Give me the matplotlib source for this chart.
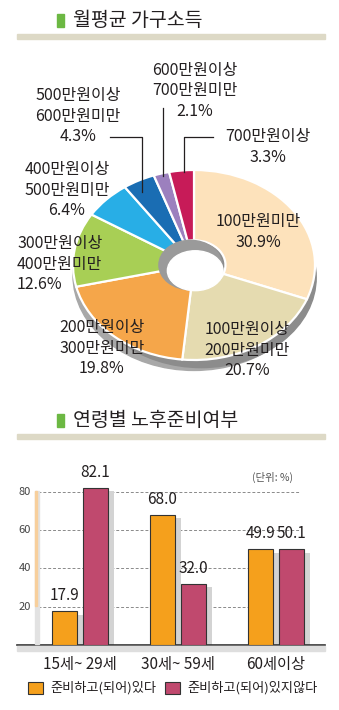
import matplotlib.pyplot as plt
from matplotlib.patches import Rectangle, Ellipse

plt.rcParams['font.family'] = ['Noto Sans CJK KR', 'DejaVu Sans']

# 월평균 가구소득 (clockwise from 12 o'clock)
income_labels = ['100만원미만', '100만원이상\n200만원미만', '200만원이상\n300만원미만',
                 '300만원이상\n400만원미만', '400만원이상\n500만원미만', '500만원이상\n600만원미만',
                 '600만원이상\n700만원미만', '700만원이상']
income_share = [30.9, 20.7, 19.8, 12.6, 6.4, 4.3, 2.1, 3.3]
income_colors = ['#fde2bb', '#e5dbb0', '#f5a64a', '#a8cf55', '#28aee6', '#1a6db3',
                 '#9c80be', '#c71b58']

# 연령별 노후준비여부
age_groups = ['15세~ 29세', '30세~ 59세', '60세이상']
prepared = [17.9, 68.0, 49.9]
not_prepared = [82.1, 32.0, 50.1]
series_names = ['준비하고(되어)있다', '준비하고(되어)있지않다']
yticks = [20, 40, 60, 80]

W, H = 339, 710
fig = plt.figure(figsize=(W / 100, H / 100), dpi=100)


def box(x0, y0, x1, y1):
    # pixel box (top-left origin) -> figure fraction rect
    return [x0 / W, 1 - y1 / H, (x1 - x0) / W, (y1 - y0) / H]


# ---- donut ----
cx, cy, rx, ry = 194, 265, 121, 95
pax = fig.add_axes(box(53, 150, 335, 392))
# grey side of the disc
pax.add_patch(Ellipse((0.0, -0.11), 2.0, 2.0, color='#a8a8a8', zorder=0))
pax.add_patch(Ellipse((0.06, -0.13), 1.9, 1.9, color='#8c8c8c', zorder=0))
pax.pie(income_share, colors=income_colors, startangle=90, counterclock=False,
        wedgeprops=dict(width=0.74, edgecolor='white', linewidth=1.6))
pax.add_patch(Ellipse((-0.03, 0), 0.52, 0.52, color='#9a9a9a', zorder=5))
pax.add_patch(Ellipse((0.01, -0.06), 0.46, 0.42, color='white', zorder=6))
pax.set_aspect('auto')
pax.set_xlim((53 - cx) / rx, (335 - cx) / rx)
pax.set_ylim((cy - 392) / ry, (cy - 150) / ry)
pax.axis('off')

# ---- grouped bars ----
gx0, ppu = 80, 98            # first group centre, pixels per group
px_per_val = 1.917
bax = fig.add_axes(box(17, 470, 325, 645))
bax.set_xlim((17 - gx0) / ppu, (325 - gx0) / ppu)
bax.set_ylim(0, (645 - 470) / px_per_val)
xs = list(range(len(age_groups)))
off, bw, sh = 15.5 / ppu, 25 / ppu, 6 / ppu
bax.hlines(yticks, (38 - gx0) / ppu, (300 - gx0) / ppu, colors='#8a8a8a',
           linestyles=(0, (3, 2)), linewidth=0.7, zorder=0)
for t in yticks:
    bax.text((31 - gx0) / ppu, t, str(t), ha='right', va='center', fontsize=8,
             color='#444444')
for vals, sign, col in [(prepared, -1, '#f5a01c'), (not_prepared, 1, '#c0496e')]:
    pos = [x + sign * off for x in xs]
    bax.bar([p + sh for p in pos], [v - 2 for v in vals], width=bw,
            color='#d3d3d3', zorder=1)
    bax.bar(pos, vals, width=bw, color=col, edgecolor='#333333', linewidth=0.8,
            zorder=3)
    for p, v in zip(pos, vals):
        bax.annotate(f'{v:.1f}', (p, v), xytext=(0, 5), textcoords='offset points',
                     ha='center', va='bottom', fontsize=11, color='#231f20')
for s in ['top', 'left', 'right']:
    bax.spines[s].set_visible(False)
bax.spines['bottom'].set_color('#333333')
bax.spines['bottom'].set_linewidth(1.2)
bax.set_yticks([])
bax.set_xticks(xs, age_groups, fontsize=11, color='#231f20')
bax.tick_params(axis='x', length=0, pad=8)
bax.set_facecolor('none')

# ---- titles, labels, legend (pixel overlay) ----
ov = fig.add_axes([0, 0, 1, 1], zorder=10)
ov.set_xlim(0, W)
ov.set_ylim(H, 0)
ov.axis('off')
ov.patch.set_alpha(0)

for ty, title in [(21, '월평균 가구소득'), (421, '연령별 노후준비여부')]:
    ov.add_patch(Rectangle((57, ty - 7), 7, 13, color='#6cb843'))
    ov.text(73, ty, title, ha='left', va='center', fontsize=14, fontweight='medium',
            color='#231f20')
    ov.add_patch(Rectangle((17, ty + 13), 308, 5, color='#ddd9c6'))

txt = dict(fontsize=11.5, color='#231f20', linespacing=1.25, va='center')
spots = [(258, 232, 'center'), (247, 350, 'center'), (102, 348, 'center'),
         (17, 264, 'left'), (67, 190, 'center'), (78, 116, 'center'),
         (195, 91, 'center'), (268, 147, 'center')]
for (x, y, ha), lab, v in zip(spots, income_labels, income_share):
    ov.text(x, y, f'{lab}\n{v}%', ha=ha, multialignment=ha, **txt)

for xx, yy in [([110, 142, 142], [137, 137, 192]), ([163, 163], [108, 176]),
               ([213, 184, 184], [137, 137, 172])]:
    ov.plot(xx, yy, color='#231f20', linewidth=0.9)

ov.text(272, 477, '(단위: %)', ha='center', va='center', fontsize=7.5, color='#555555')

# left scale strip and baseline shadow
ov.add_patch(Rectangle((35, 491), 4, 153, color='#e2e2e2', zorder=0))
ov.add_patch(Rectangle((35, 491), 2, 115, color='#f7cf9c', zorder=0))
ov.add_patch(Rectangle((17, 646), 308, 5, color='#dedede', zorder=0))

for lx, col, name in [(28, '#f5a01c', series_names[0]), (165, '#c0496e', series_names[1])]:
    ov.add_patch(Rectangle((lx, 682), 15, 12, facecolor=col, edgecolor='#333333',
                           linewidth=0.8))
    ov.text(lx + 22, 688, name, ha='left', va='center', fontsize=9.5, color='#231f20')

fig.savefig('out.png', dpi=100)
